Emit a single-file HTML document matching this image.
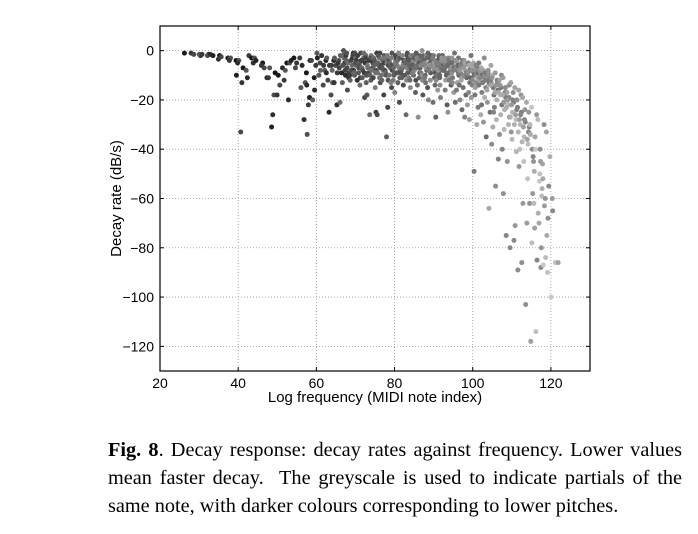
<!DOCTYPE html>
<html><head><meta charset="utf-8">
<style>
html,body{margin:0;padding:0;background:#fff;}
body{width:698px;height:534px;position:relative;overflow:hidden;}
svg{position:absolute;left:0;top:0;}
.cap{position:absolute;left:108px;top:436px;width:574px;font-family:"Liberation Serif",serif;font-size:20.3px;line-height:28px;color:#000;text-align:justify;text-align-last:left;}
</style></head><body>
<svg id="chart" width="698" height="430" xmlns="http://www.w3.org/2000/svg" font-family="Liberation Sans, sans-serif"></svg>
<div class="cap"><b>Fig. 8</b>. Decay response: decay rates against frequency. Lower values mean faster decay.&nbsp; The greyscale is used to indicate partials of the same note, with darker colours corresponding to lower pitches.</div>
<script>
const xTicks=[20,40,60,80,100,120];
const yTicks=[0,-20,-40,-60,-80,-100,-120];
const notes=[26,28,29,30,31,32,33,34,35,36,37,38,39,40,41,42,43,44,45,46,47,48,49,50,51,52,53,54,55,56,57,58,59,60,61,62,63,64,65,66,67,68,69,70,71,72,73,74,75,76,77,78,79,80,81,82,83,84,85,86,87,88,89,90,91,92,93,94,95,96,97,98,99,100,101,102,103,104,105,106,107,108,109,110,111,112,113,114,115,116,117,118,119,120,121,122];
const rates=[
[-1],[-1],[-1.5],[-2,-1.5],[-1.5],[-1.5,-2],[-1.5],[-2],[-2,-3.5],[-2.5],[-3],[-3,-4],[-4],[-4,-5,-10],[-7,-13,-33],[-11,-8],[-2,-3],[-3,-5],[-4],[-5,-6],[-7,-11],[-7,-11],[-9,-18,-26,-31],[-10,-18],[-14,-7],[-8,-12,-5],[-5,-20],[-4,-3],[-5,-7],[-6,-15,-3],[-9,-13,-28],[-14,-19,-22,-34,-4],[-20,-4,-11],[-1,-6,-16,-3],[-5,-10,-2,-8],[-14,-4,-8,-6],[-9,-25,-12,-3,-6],[-8,-18,-4,-13,-6],[-13,-22,-6,-3,-9],[-21,-4,-9,-2,-7,-5],
[-5,0,-13,-8,-3,-6,-10,-1],[-7,-2,-11,-16,-4,-9,-5,-1],[-1,-6,-4,-10,-3,-8,-12,-2],[-3,-10,-12,-6,-1,-8,-4,-5,-9],[-1,-5,-9,-4,-14,-7,-2,-11,-6],[-7,-19,-3,-11,-5,-1,-8,-4,-9],[-18,-2,-9,-6,-13,-4,-7,-10,-3],[-4,-12,-26,-7,-2,-10,-5,-8,-3],[-11,-25,-5,-3,-8,-15,-6,-1,-9,-4],[-26,-1,-6,-9,-13,-3,-5,-7,-11,-2],[-6,-18,-4,-10,-2,-8,-12,-5,-3,-7],[-8,-23,-35,-3,-12,-5,-9,-6,-2,-10],[-4,-15,-7,-10,-1,-13,-5,-8,-3,-6],[-6,-2,-9,-12,-4,-17,-7,-3,-5,-10],[-9,-21,-3,-6,-11,-1,-4,-8,-7,-13],[-3,-14,-7,-10,-5,-2,-8,-4,-6,-11,-9],[-1,-26,-6,-9,-12,-4,-3,-7,-5,-10,-2],[-7,-11,-3,-15,-5,-9,-2,-6,-4,-8,-12],[-5,-17,-8,-2,-12,-4,-10,-6,-3,-7,-9],[-2,-27,-6,-9,-4,-14,-1,-5,-7,-3,-11],[0,-9,-5,-12,-3,-7,-18,-4,-6,-2,-10],[-6,-15,-2,-10,-4,-8,-13,-5,-3,-7,-11],[-3,-12,-7,-1,-9,-5,-20,-4,-6,-8,-2],[-8,-21,-4,-11,-2,-6,-14,-5,-3,-9,-7],[-4,-27,-9,-6,-12,-2,-16,-5,-3,-8,-10],[-10,-2,-5,-14,-8,-3,-19,-6,-4,-7,-11],[-6,-16,-3,-9,-12,-5,-22,-4,-7,-8,-10],[-5,-25,-8,-11,-3,-14,-7,-4,-6,-9,-12],[-9,-1,-6,-13,-4,-17,-11,-5,-7,-8,-3],[-3,-13,-7,-10,-5,-16,-21,-6,-8,-4,-9],[-7,-20,-4,-11,-9,-14,-24,-6,-8,-5,-12],[-4,-11,-8,-6,-15,-18,-27,-7,-9,-5,-10],[-8,-28,-5,-10,-13,-17,-22,-7,-6,-9,-11],[-6,-14,-2,-9,-12,-19,-49,-7,-8,-10,-5],[-10,-18,-7,-13,-15,-23,-30,-8,-9,-11,-6],[-5,-22,-9,-12,-17,-26,-8,-10,-7,-11,-14],[-12,-3,-8,-15,-19,-29,-35,-10,-11,-13,-9],[-8,-16,-11,-14,-21,-25,-64,-10,-12,-13,-9],[-6,-25,-10,-13,-18,-31,-38,-12,-15,-11,-14],[-13,-28,-9,-16,-20,-55,-23,-12,-14,-17],[-10,-18,-12,-22,-26,-34,-44,-15,-14,-17],[-15,-32,-11,-19,-24,-58,-40,-17,-21,-18],[-14,-22,-17,-27,-30,-45,-75,-19,-20,-23],[-17,-36,-13,-21,-25,-33,-80,-20,-22,-27],[-20,-28,-15,-23,-41,-71,-77,-24,-26,-30],[-18,-40,-16,-25,-30,-47,-89,-26,-28,-33],[-24,-45,-19,-29,-35,-62,-86,-28,-31,-37],[-25,-52,-21,-31,-38,-70,-103,-33,-36],[-30,-58,-23,-34,-43,-78,-118,-62,-40],[-35,-62,-26,-40,-49,-85,-114,-72,-45],[-40,-70,-28,-45,-53,-66,-88,-50],[-46,-80,-30,-52,-59,-63,-87,-56],[-55,-90,-33,-60,-68,-75,-84],[-60,-100,-43,-65],[-86],[-86]
];
const shades=[0.15,0.35,0.5,0.25,0.6,0.4,0.1,0.55,0.3,0.2];
const X0=160,X1=590,Y0=26,Y1=371;
const xs=v=>X0+(v-20)/(130-20)*(X1-X0);
const ys=v=>Y0+(10-v)/(10+130)*(Y1-Y0);
const svg=document.getElementById('chart');
const NS='http://www.w3.org/2000/svg';
function mk(t,a){const e=document.createElementNS(NS,t);for(const k in a)e.setAttribute(k,a[k]);svg.appendChild(e);return e;}
let bg=mk('rect',{x:X0,y:Y0,width:X1-X0,height:Y1-Y0,fill:'#fff'});


xTicks.forEach(t=>{const x=xs(t);
 if(t>20){let g=mk('line',{x1:x,y1:Y0,x2:x,y2:Y1,stroke:'#999','stroke-width':0.8,'stroke-dasharray':'1,2'});
 
 }
 mk('line',{x1:x,y1:Y1,x2:x,y2:Y1-4,stroke:'#000'});
 mk('line',{x1:x,y1:Y0,x2:x,y2:Y0+4,stroke:'#000'});
 let l=mk('text',{x:x,y:Y1+17,'text-anchor':'middle','font-size':14});l.textContent=t;
 
 
});
yTicks.forEach(t=>{const y=ys(t);
 let g=mk('line',{x1:X0,y1:y,x2:X1,y2:y,stroke:'#999','stroke-width':0.8,'stroke-dasharray':'1,2'});
 
 
 mk('line',{x1:X0,y1:y,x2:X0+4,y2:y,stroke:'#000'});
 mk('line',{x1:X1,y1:y,x2:X1-4,y2:y,stroke:'#000'});
 let l=mk('text',{x:X0-6,y:y+5,'text-anchor':'end','font-size':14});l.textContent=t===0?'0':'\u2212'+(-t);
 
 
});
let k=0;
notes.forEach((n,i)=>{rates[i].forEach(r=>{
 const base=Math.min(0.75,Math.max(0.05,(n-50)/90));
 const g=Math.min(0.82,base*0.65+shades[k%shades.length]*0.5);k++;
 const c=Math.round(g*255);
 let d=mk('circle',{cx:xs(n+((k*7)%10)/10-0.45),cy:ys(r),r:2.5,fill:`rgb(${c},${c},${c})`});
 
 
});});
let fr=mk('rect',{x:X0,y:Y0,width:X1-X0,height:Y1-Y0,fill:'none',stroke:'#000','stroke-width':1.2});


let xl=mk('text',{x:(X0+X1)/2,y:Y1+31,'text-anchor':'middle','font-size':15});xl.textContent='Log frequency (MIDI note index)';


let yl=mk('text',{x:0,y:0,'text-anchor':'middle','font-size':15,transform:`translate(121,${(Y0+Y1)/2}) rotate(-90)`});yl.textContent='Decay rate (dB/s)';


</script>
</body></html>
